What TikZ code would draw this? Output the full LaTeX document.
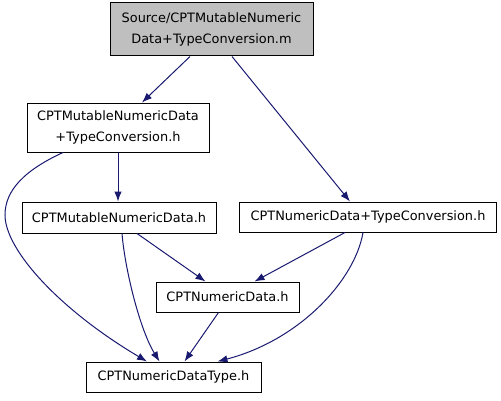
\documentclass[tikz,border=0pt]{standalone}
\usepackage{fontspec}
\setmainfont{DejaVu Sans}
\usetikzlibrary{arrows.meta}
\definecolor{edgecol}{HTML}{191970}
\definecolor{topfill}{HTML}{BFBFBF}
\begin{document}
\begin{tikzpicture}[x=1pt,y=1pt,
  box/.style={draw=black,line width=1pt,fill=white,inner sep=0pt,align=center,
    font=\fontsize{12.9}{21}\selectfont},
  edge/.style={draw=edgecol,line width=1pt,-{Latex[length=10pt,width=7.5pt]}}]
\useasboundingbox (0,0) rectangle (501,400);
\node[box,fill=topfill,minimum width=203pt,minimum height=53pt] (top) at (211.5,370.5) {Source/CPTMutableNumeric\\Data+TypeConversion.m};
\node[box,minimum width=182pt,minimum height=49pt] (mtc) at (118,272.5) {CPTMutableNumericData\\+TypeConversion.h};
\node[box,minimum width=194pt,minimum height=31pt] (mnd) at (119,182.5) {CPTMutableNumericData.h};
\node[box,minimum width=257pt,minimum height=30pt] (ntc) at (368,183) {CPTNumericData+TypeConversion.h};
\node[box,minimum width=143pt,minimum height=30pt] (nd) at (227.5,103) {CPTNumericData.h};
\node[box,minimum width=175pt,minimum height=30pt] (type) at (173.5,23) {CPTNumericDataType.h};
\coordinate (bend) at (5,185);
\draw[edge] ([xshift=-21.5pt]top.south) -- ([xshift=24pt]mtc.north);
\draw[edge] ([xshift=20.5pt]top.south) -- ([xshift=-18pt]ntc.north);
\draw[edge] (mtc.south) -- (mtc.south |- mnd.north);
\draw[edge] ([xshift=-55pt]mtc.south) .. controls (25,230) and (5,210) .. (bend)
  .. controls (5,150) and (60,90) .. ([xshift=-26.5pt]type.north);
\draw[edge] ([xshift=18pt]mnd.south) -- ([xshift=-22pt]nd.north);
\draw[edge] ([xshift=3pt]mnd.south) .. controls (125,130) and (140,70) .. ([xshift=-14pt]type.north);
\draw[edge] ([xshift=-23pt]ntc.south) -- ([xshift=27pt]nd.north);
\draw[edge] ([xshift=-5pt]ntc.south) .. controls (355,120) and (300,60) .. ([xshift=44pt]type.north);
\draw[edge] ([xshift=-9pt]nd.south) -- ([xshift=11pt]type.north);
\end{tikzpicture}
\end{document}
